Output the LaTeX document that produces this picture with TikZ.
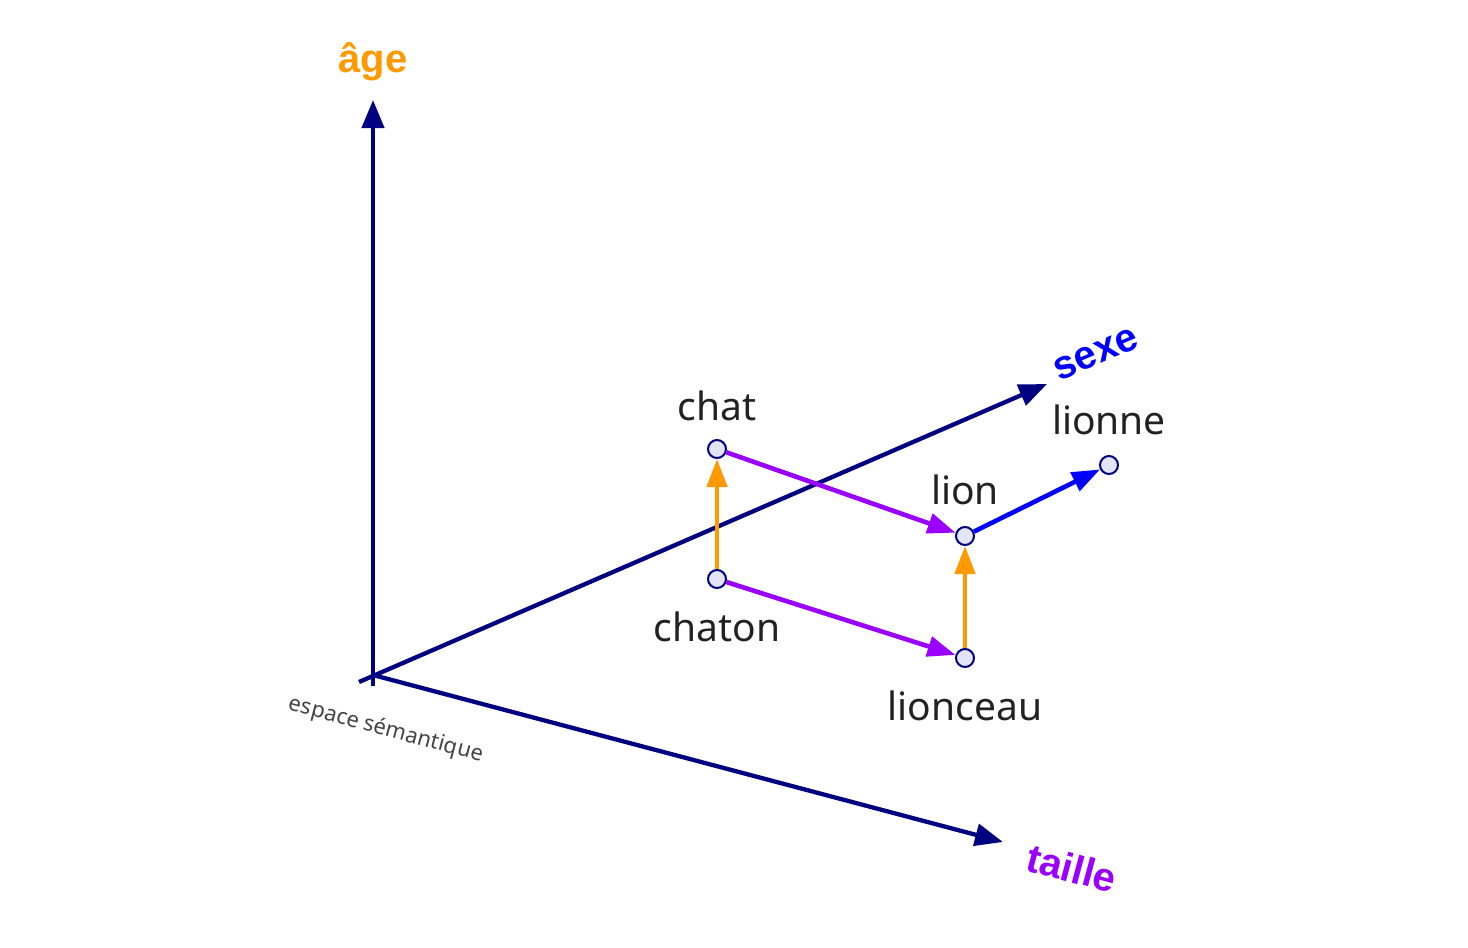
\documentclass[tikz,border=0pt]{standalone}
\usepackage{fontspec}
\setmainfont{Noto Sans}
\newfontfamily\axfont{Liberation Sans}
\usetikzlibrary{arrows.meta}
\definecolor{navy}{HTML}{000080}
\definecolor{aorange}{HTML}{FF9900}
\definecolor{apurple}{HTML}{9900FF}
\definecolor{ablue}{HTML}{0000FF}
\definecolor{ptfill}{HTML}{E4E4F8}
\definecolor{txt}{HTML}{222222}
\tikzset{
  axis/.style={draw=navy, line width=4.3pt, -{Triangle[length=28pt,width=22pt]}},
  vec/.style={line width=4.6pt, -{Triangle[length=28pt,width=20pt]}},
  pt/.style={circle, draw=navy, fill=ptfill, line width=2pt, minimum size=18pt, inner sep=0pt},
  word/.style={text=txt, font=\fontsize{39}{46}\selectfont},
  axlabel/.style={font=\axfont\bfseries\fontsize{40}{46}\selectfont},
}
\begin{document}
\begin{tikzpicture}[x=1pt,y=-1pt]
\useasboundingbox (0,0) rectangle (1468,948);
% origin
\coordinate (O) at (373,675);
\coordinate (Obot) at (373,686);
\coordinate (Oback) at (359,682);
\coordinate (agetip) at (373,100);
\coordinate (sexetip) at (1047,384);
\coordinate (tailletip) at (1003,842);
\draw[axis] (Obot) -- (agetip);
\draw[axis] (Oback) -- (sexetip);
\draw[axis] (O) -- (tailletip);
\node[axlabel, text=aorange] (agel) at (373,62) {âge};
\node[axlabel, text=ablue, rotate=23] (sexel) at (1096,354) {sexe};
\node[axlabel, text=apurple, rotate=-15] (taillel) at (1072,868) {taille};
\node[text=txt!85, rotate=-15, font=\fontsize{22}{26}\selectfont] (esp) at (386,730) {espace sémantique};
% points
\node[pt] (chat) at (717,449) {};
\node[pt] (chaton) at (717,579) {};
\node[pt] (lion) at (965,536) {};
\node[pt] (lionceau) at (965,658) {};
\node[pt] (lionne) at (1109,465) {};
% labels
\node[word] (lchat) at (717,406) {chat};
\node[word] (lchaton) at (717,627) {chaton};
\node[word] (llion) at (965,490) {lion};
\node[word] (llionceau) at (965,706) {lionceau};
\node[word] (llionne) at (1109,420) {lionne};
% vectors
\draw[vec, draw=aorange, fill=aorange] (chaton) -- (chat);
\draw[vec, draw=aorange, fill=aorange] (lionceau) -- (lion);
\draw[vec, draw=apurple, fill=apurple] (chat) -- (lion);
\draw[vec, draw=apurple, fill=apurple] (chaton) -- (lionceau);
\draw[vec, draw=ablue, fill=ablue] (lion) -- (lionne);
\end{tikzpicture}
\end{document}
